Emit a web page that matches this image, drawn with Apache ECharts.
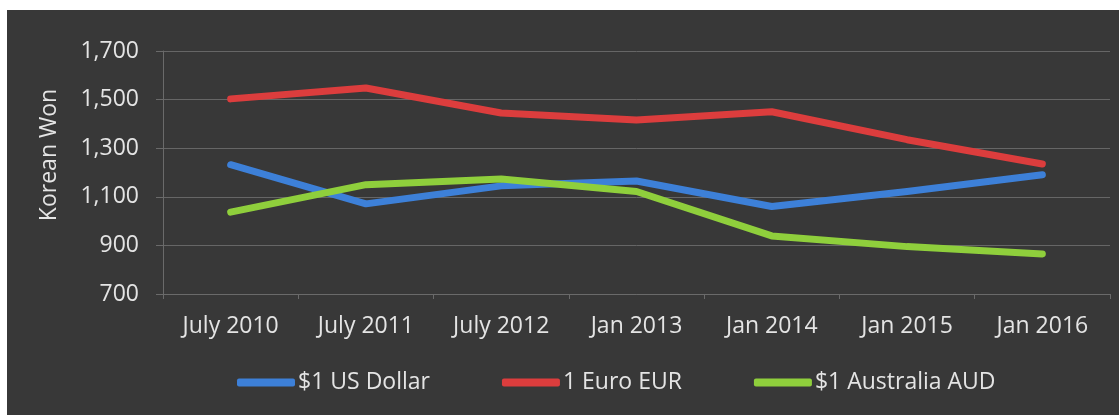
<!DOCTYPE html>
<html>
<head>
<meta charset="utf-8">
<title>Korean Won exchange rates</title>
<script src="https://cdn.jsdelivr.net/npm/echarts@6/dist/echarts.min.js"></script>
<style>
  html, body { margin: 0; padding: 0; background: #ffffff; }
  #chart { position: absolute; left: 7px; top: 10px; width: 1112px; height: 405px; }
</style>
</head>
<body>
<div id="chart"></div>
<script>
// Exchange rates (Korean Won per unit of foreign currency)
const categories = ['July 2010', 'July 2011', 'July 2012', 'Jan 2013', 'Jan 2014', 'Jan 2015', 'Jan 2016'];
const usdValues = [1232, 1071, 1145, 1165, 1060, 1122, 1191];
const eurValues = [1503, 1548, 1445, 1416, 1450, 1335, 1235];
const audValues = [1037, 1150, 1173, 1122, 939, 895, 865];
const seriesNames = ['$1 US Dollar', '1 Euro EUR', '$1 Australia AUD'];
const yTicks = { min: 700, max: 1700, interval: 200 };
const axisTitle = 'Korean Won';

const FONT = '"Open Sans", "Noto Sans", sans-serif';
const FS = 23;
const TEXT = '#e4e4e4';
const colors = ['#3d80d8', '#dc3d3d', '#8fcf3c'];

const chart = echarts.init(document.getElementById('chart'), null, { renderer: 'canvas' });

function lineSeries(name, data, color) {
  return {
    name: name,
    type: 'line',
    data: data,
    showSymbol: false,
    symbol: 'none',
    lineStyle: { color: color, width: 7, cap: 'round', join: 'round' },
    itemStyle: { color: color },
    emphasis: { disabled: true }
  };
}

chart.setOption({
  backgroundColor: '#383838',
  animation: false,
  textStyle: { fontFamily: FONT, color: TEXT },
  grid: { left: 156, right: 9, top: 41, bottom: 121 },
  legend: {
    left: 225,
    top: 356,
    itemWidth: 58,
    itemHeight: 8,
    itemGap: 72,
    icon: 'roundRect',
    textStyle: { color: TEXT, fontSize: FS, fontFamily: FONT, padding: [0, 0, 0, -2] },
    data: seriesNames
  },
  xAxis: {
    type: 'category',
    data: categories,
    boundaryGap: true,
    axisLine: { show: true, lineStyle: { color: '#6a6a6a', width: 1 } },
    axisTick: { show: true, length: 5, lineStyle: { color: '#6a6a6a' } },
    axisLabel: { color: TEXT, fontSize: FS, fontFamily: FONT, margin: 21 },
    splitLine: { show: false }
  },
  yAxis: {
    type: 'value',
    min: yTicks.min,
    max: yTicks.max,
    interval: yTicks.interval,
    axisLine: { show: true, lineStyle: { color: '#6a6a6a', width: 1 } },
    axisTick: { show: true, length: 7, inside: false, lineStyle: { color: '#6a6a6a' } },
    axisLabel: {
      color: TEXT, fontSize: FS, fontFamily: FONT, margin: 24,
      formatter: v => v.toLocaleString('en-US')
    },
    splitLine: { show: true, lineStyle: { color: '#666666', width: 1 } }
  },
  graphic: [{
    type: 'text',
    x: 42,
    y: 145,
    rotation: Math.PI / 2,
    style: {
      text: axisTitle,
      fill: TEXT,
      font: FS + 'px ' + FONT,
      align: 'center',
      verticalAlign: 'middle'
    }
  }],
  series: [
    lineSeries(seriesNames[0], usdValues, colors[0]),
    lineSeries(seriesNames[1], eurValues, colors[1]),
    lineSeries(seriesNames[2], audValues, colors[2])
  ]
});
</script>
</body>
</html>
